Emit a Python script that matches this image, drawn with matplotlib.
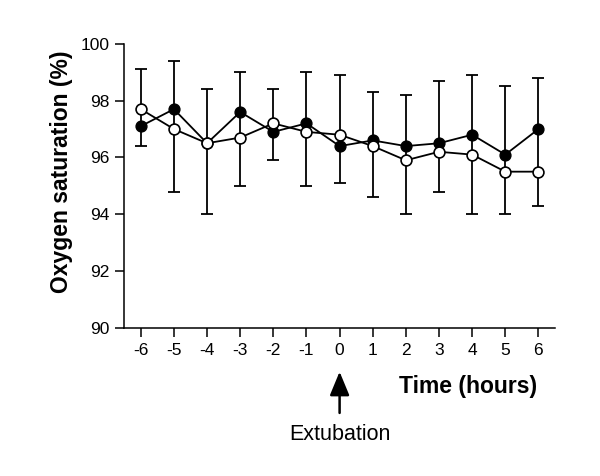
import matplotlib
matplotlib.use("Agg")
import matplotlib.pyplot as plt
import numpy as np

plt.rcParams['font.family'] = ['Liberation Sans', 'DejaVu Sans']

hours = [-6, -5, -4, -3, -2, -1, 0, 1, 2, 3, 4, 5, 6]
filled_vals = [97.1, 97.7, 96.5, 97.6, 96.9, 97.2, 96.4, 96.6, 96.4, 96.5, 96.8, 96.1, 97.0]
open_vals = [97.7, 97.0, 96.5, 96.7, 97.2, 96.9, 96.8, 96.4, 95.9, 96.2, 96.1, 95.5, 95.5]
bar_top = [99.1, 99.4, 98.4, 99.0, 98.4, 99.0, 98.9, 98.3, 98.2, 98.7, 98.9, 98.5, 98.8]
bar_bottom = [96.4, 94.8, 94.0, 95.0, 95.9, 95.0, 95.1, 94.6, 94.0, 94.8, 94.0, 94.0, 94.3]
yticks = [90, 92, 94, 96, 98, 100]

fig = plt.figure(figsize=(6, 4.76), dpi=100)
ax = fig.add_axes([0.207, 0.311, 0.718, 0.597])

x = np.array(hours)
top = np.array(bar_top)
bot = np.array(bar_bottom)
mid = (top + bot) / 2
ax.errorbar(x, mid, yerr=[mid - bot, top - mid], fmt='none', ecolor='black',
            elinewidth=1.3, capsize=4.5, capthick=1.3, zorder=1)

ax.plot(x, filled_vals, '-', color='black', lw=1.3, marker='o', markersize=7.8,
        markerfacecolor='black', markeredgecolor='black', zorder=3)
ax.plot(x, open_vals, '-', color='black', lw=1.3, marker='o', markersize=7.8,
        markerfacecolor='white', markeredgecolor='black', markeredgewidth=1.2, zorder=4)

ax.set_xlim(-6.5, 6.5)
ax.set_ylim(90, 100)
ax.set_xticks(hours)
ax.set_xticklabels([str(h) for h in hours])
ax.set_yticks(yticks)
ax.tick_params(axis='both', direction='out', length=6.5, width=1.1, labelsize=12.5, pad=4)
ax.spines['top'].set_visible(False)
ax.spines['right'].set_visible(False)
for s in ['left', 'bottom']:
    ax.spines[s].set_linewidth(1.1)

fig.text(0.103, 1 - 172 / 476, 'Oxygen saturation (%)', rotation=90, fontsize=16.5,
         fontweight='bold', ha='center', va='center')
fig.text(537 / 600, 1 - 387 / 476, 'Time (hours)', fontsize=16.5, fontweight='bold',
         ha='right', va='center')

ax.annotate('', xy=(0, -0.154), xycoords=('data', 'axes fraction'),
            xytext=(0, -0.299), textcoords=('data', 'axes fraction'),
            arrowprops=dict(arrowstyle='-|>,head_width=0.6,head_length=1.45',
                            color='black', lw=1.8, shrinkA=0, shrinkB=0))
fig.text(340 / 600, 1 - 434 / 476, 'Extubation', fontsize=15.5, ha='center', va='center')

fig.savefig('out.png', dpi=100, facecolor='white')
